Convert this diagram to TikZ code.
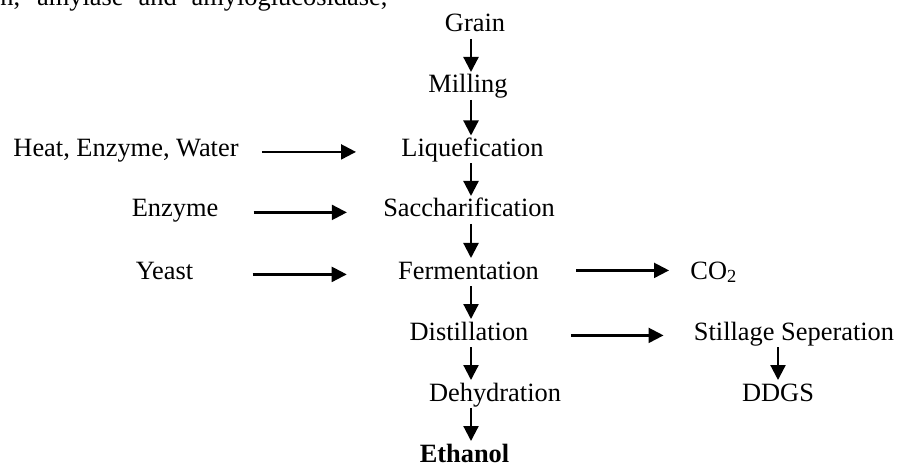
\documentclass[tikz,border=0pt]{standalone}
\usepackage{fontspec}
\setmainfont{Liberation Serif}
\usetikzlibrary{arrows.meta}
\tikzset{
    step-label/.style = {inner sep=0pt, anchor=base, text height=9.3pt, text depth=3.3pt, font=\fontsize{13.2}{15}\selectfont},
    flow-arrow/.style = {-{Triangle[length=7.5pt, width=7.5pt]}, line width=1.1pt, shorten >=1pt},
}
\begin{document}
\begin{tikzpicture}[x=0.5pt, y=-0.5pt]
\useasboundingbox (0,0) rectangle (897,464);
\node[anchor=base west, inner sep=0pt, font=\fontsize{13.2}{15}\selectfont] (intro) at (0,6) {\makebox[193.5pt][s]{n, amylase and amyloglucosidase,}};
\coordinate (spine) at (471,0);
\node[step-label] (grain) at (475,32) {Grain};
\node[step-label] (milling) at (468,93) {Milling};
\node[step-label] (liquefication) at (472.5,156.5) {Liquefication};
\node[step-label] (saccharification) at (469,217) {Saccharification};
\node[step-label] (fermentation) at (468.5,279) {Fermentation};
\node[step-label] (distillation) at (469,340) {Distillation};
\node[step-label] (dehydration) at (495,401) {Dehydration};
\node[step-label, font=\fontsize{13.2}{15}\selectfont\bfseries] (ethanol) at (464.5,462) {Ethanol};
\node[step-label] (heat) at (126,156.5) {Heat, Enzyme, Water};
\node[step-label] (enzyme) at (175,217) {Enzyme};
\node[step-label] (yeast) at (164.5,279) {Yeast};
\node[step-label, anchor=base west] (co2) at (690,279) {CO\textsubscript{2}};
\node[step-label] (stillage) at (794,340) {Stillage Seperation};
\node[step-label] (ddgs) at (778,401) {DDGS};
\foreach \from/\to in {grain/milling, milling/liquefication, liquefication/saccharification, saccharification/fermentation, fermentation/distillation, distillation/dehydration, dehydration/ethanol}
    \draw[flow-arrow] (\from.south -| spine) -- (\to.north -| spine);
\draw[flow-arrow] (stillage.south -| ddgs) -- (ddgs.north);
\draw[flow-arrow, shorten <=11.5pt, shorten >=22.5pt] (heat.mid east) -- (liquefication.mid west);
\draw[flow-arrow, shorten <=17.5pt, shorten >=18pt] (enzyme.mid east) -- (saccharification.mid west);
\draw[flow-arrow, shorten <=29.5pt, shorten >=25.5pt] (yeast.mid east) -- (fermentation.mid west);
\draw[flow-arrow, shorten <=18.5pt, shorten >=10.5pt] ([yshift=2pt]fermentation.mid east) -- ([yshift=2pt]co2.mid west);
\draw[flow-arrow, shorten <=21pt, shorten >=15pt] (distillation.mid east) -- (stillage.mid west);
\end{tikzpicture}
\end{document}
